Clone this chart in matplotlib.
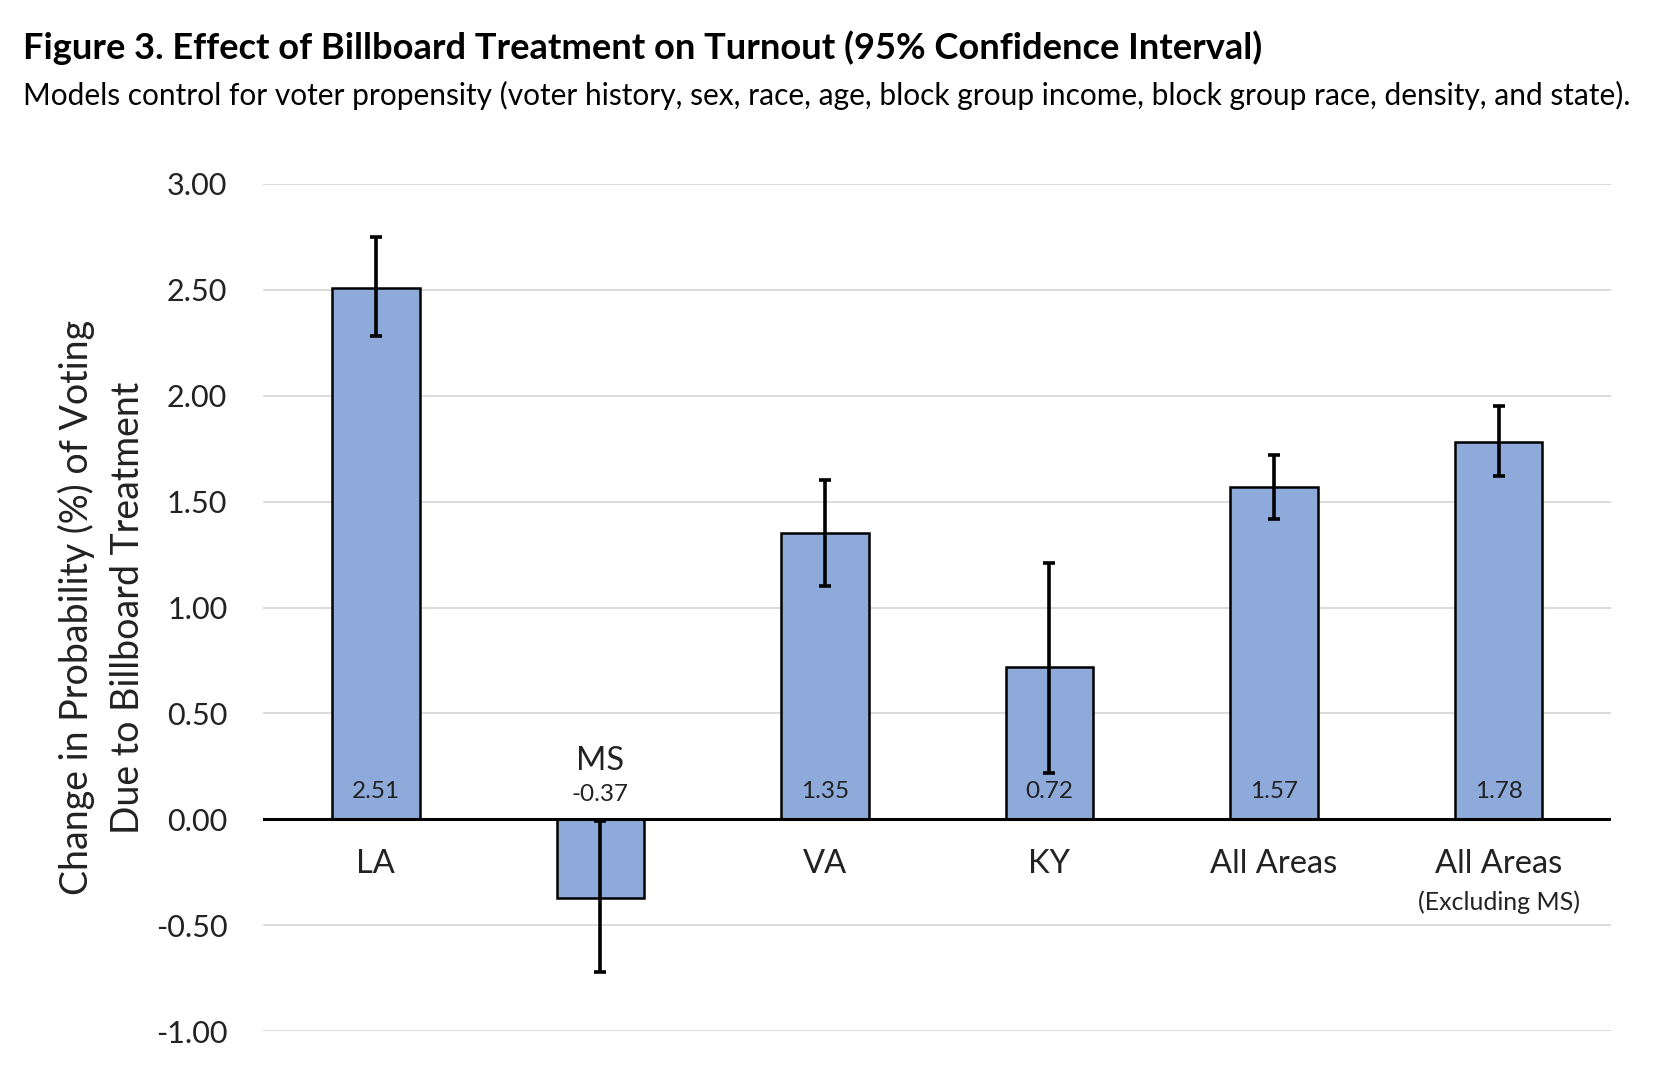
import matplotlib
matplotlib.use("Agg")
import matplotlib.pyplot as plt
import numpy as np

categories = ["LA", "MS", "VA", "KY", "All Areas", "All Areas"]
sublabels = ["", "", "", "", "", "(Excluding MS)"]
values = [2.51, -0.37, 1.35, 0.72, 1.57, 1.78]
ci_low = [2.28, -0.72, 1.10, 0.22, 1.42, 1.62]
ci_high = [2.75, -0.01, 1.60, 1.21, 1.72, 1.95]
yticks = [-1.0, -0.5, 0.0, 0.5, 1.0, 1.5, 2.0, 2.5, 3.0]

FONT = ["Lato", "DejaVu Sans"]
plt.rcParams['font.family'] = FONT

fig = plt.figure(figsize=(16.78, 10.82), dpi=100)
ax = fig.add_axes([0.157, 0.047, 0.803, 0.783])

x = np.arange(len(categories))
vals = np.array(values)
err = np.array([vals - np.array(ci_low), np.array(ci_high) - vals])

ax.bar(x, vals, width=0.39, color="#8EAADB", edgecolor="black", linewidth=1.8, zorder=3)
ax.errorbar(x, vals, yerr=err, fmt="none", ecolor="black", elinewidth=2.6,
            capsize=4.5, capthick=2.6, zorder=4)
ax.axhline(0, color="black", linewidth=2.2, zorder=5)

ax.set_xlim(-0.5, len(categories) - 0.5)
ax.set_ylim(-1.0, 3.0)
ax.set_yticks(yticks)
ax.set_yticklabels([f"{t:.2f}" for t in yticks], fontsize=22, color="#222222")
ax.tick_params(axis="y", length=0, pad=26)
ax.set_xticks([])
ax.grid(axis="y", color="#D9D9D9", linewidth=1.3, zorder=0)
for s in ax.spines.values():
    s.set_visible(False)

for i, (c, sub, v) in enumerate(zip(categories, sublabels, values)):
    if v >= 0:
        ax.text(i, 0.13, f"{v:.2f}", ha="center", va="center", fontsize=17.5, color="#222222", zorder=6)
        ax.text(i, -0.21, c, ha="center", va="center", fontsize=23.5, color="#222222")
        if sub:
            ax.text(i, -0.39, sub, ha="center", va="center", fontsize=18, color="#222222")
    else:
        ax.text(i, 0.115, f"{v:.2f}", ha="center", va="center", fontsize=17.5, color="#222222", zorder=6)
        ax.text(i, 0.275, c, ha="center", va="center", fontsize=23.5, color="#222222")

ax.set_ylabel("Change in Probability (%) of Voting\nDue to Billboard Treatment",
              fontsize=27, color="#222222", labelpad=7, linespacing=1.5)

fig.text(0.014, 0.956, "Figure 3. Effect of Billboard Treatment on Turnout (95% Confidence Interval)",
         fontsize=26.1, fontweight="bold", ha="left", va="center", color="black")
fig.text(0.014, 0.912, "Models control for voter propensity (voter history, sex, race, age, block group income, block group race, density, and state).",
         fontsize=21.5, ha="left", va="center", color="black")

fig.savefig("out.png", dpi=100)
